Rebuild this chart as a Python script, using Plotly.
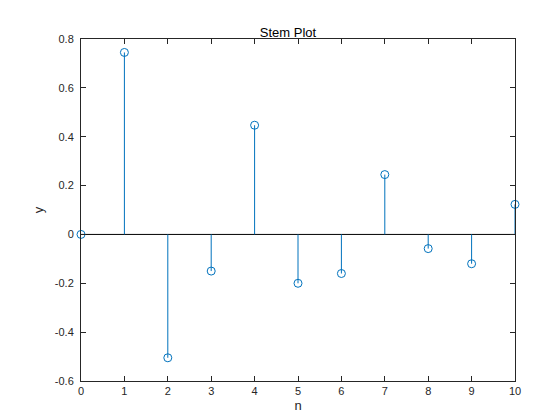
import plotly.graph_objects as go

n = list(range(11))
y = [0.0, 0.745, -0.505, -0.15, 0.447, -0.2, -0.16, 0.245, -0.058, -0.12, 0.123]

color = '#0072BD'

# stems as one trace separated by None
sx, sy = [], []
for xi, yi in zip(n, y):
    sx += [xi, xi, None]
    sy += [0, yi, None]

fig = go.Figure()
fig.add_trace(go.Scatter(x=[0, 10], y=[0, 0], mode='lines',
                         line=dict(color='black', width=1), hoverinfo='skip'))
fig.add_trace(go.Scatter(x=sx, y=sy, mode='lines', line=dict(color=color, width=1)))
fig.add_trace(go.Scatter(x=n, y=y, mode='markers', cliponaxis=False,
                         marker=dict(symbol='circle-open', size=8, color=color,
                                     line=dict(width=1, color=color))))

axis = dict(showline=True, mirror='ticks', linecolor='#262626', linewidth=1,
            ticks='inside', ticklen=5, tickcolor='#262626', showgrid=False,
            zeroline=False, automargin=False, tickfont=dict(size=11, color='#262626'))

fig.update_layout(
    width=560, height=420,
    margin=dict(l=73, r=53, t=31, b=47),
    plot_bgcolor='white', paper_bgcolor='white',
    font=dict(family='Arial, Liberation Sans', color='#262626'),
    showlegend=False,
    title=dict(text='Stem Plot', x=0.5, xanchor='center', y=0.93, yanchor='bottom',
               font=dict(size=13, color='black')),
    xaxis=dict(axis, range=[0, 10], dtick=1,
               title=dict(text='n', font=dict(size=13, color='#262626'), standoff=4)),
    yaxis=dict(axis, range=[-0.6, 0.8], ticklabelstandoff=4,
               title=dict(text='y', font=dict(size=13, color='#262626'), standoff=8)),
)
fig.layout.yaxis.tickvals = [-0.6, -0.4, -0.2, 0, 0.2, 0.4, 0.6, 0.8]
fig.layout.yaxis.ticktext = ['-0.6', '-0.4', '-0.2', '0', '0.2', '0.4', '0.6', '0.8']

fig.write_html("out.html")
